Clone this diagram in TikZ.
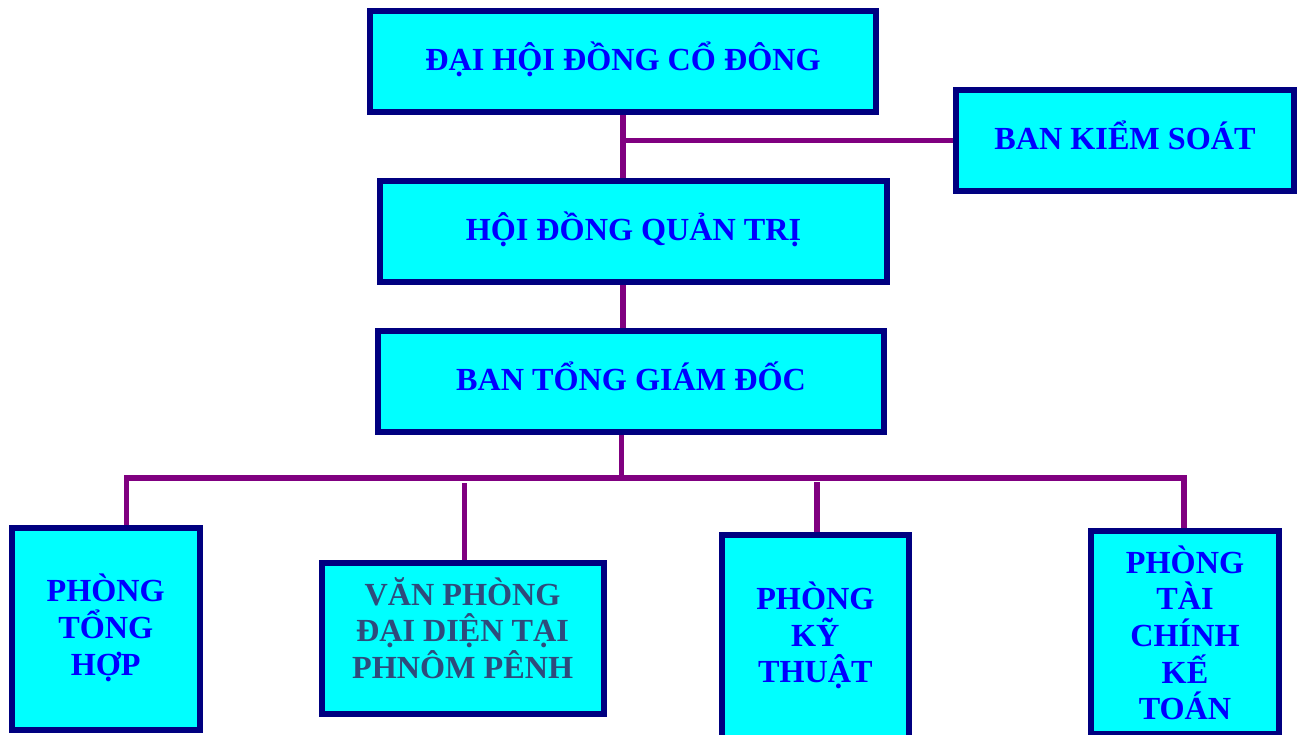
\documentclass[tikz,border=0pt]{standalone}
\usepackage{fontspec}
\setmainfont{Liberation Serif}
\usetikzlibrary{backgrounds}
\definecolor{boxfill}{HTML}{00FFFF}
\definecolor{boxline}{HTML}{000080}
\definecolor{connc}{HTML}{800080}
\definecolor{txtblue}{HTML}{0000FF}
\definecolor{txtslate}{HTML}{2F4B7C}
\newcommand\st[1]{\rule[\dimexpr#1pt-25pt\relax]{0pt}{50pt}}
\newcommand\bxfont{\fontsize{32.2}{36.7}\selectfont\bfseries\lineskiplimit=-\maxdimen\relax}
\begin{document}
\begin{tikzpicture}[x=1pt,y=-1pt,
  box/.style={draw=boxline, line width=6pt, fill=boxfill, inner sep=0pt,
    align=center, text=txtblue, font=\bxfont},
  conn/.style={draw=connc, line width=5.5pt}]
\useasboundingbox (0,0) rectangle (1299,734);
\node[box,minimum width=506,minimum height=101] (A) at (623,61.5) {\st{9.2}ĐẠI HỘI ĐỒNG CỔ ĐÔNG};
\node[box,minimum width=338,minimum height=101] (B) at (1125,140.5) {\st{8.8}BAN KIỂM SOÁT};
\node[box,minimum width=507,minimum height=101] (C) at (633.5,231.5) {\st{9.2}HỘI ĐỒNG QUẢN TRỊ};
\node[box,minimum width=506.5,minimum height=101] (D) at (631,381.5) {\st{8.5}BAN TỔNG GIÁM ĐỐC};
\node[box,minimum width=187.5,minimum height=202] (E) at (105.75,629) {\st{9.3}PHÒNG\\\st{9.3}TỔNG\\\st{9.3}HỢP};
\node[box,minimum width=282,minimum height=151,text=txtslate] (F) at (462.6,638.5) {\st{3.2}VĂN PHÒNG\\\st{3.2}ĐẠI DIỆN TẠI\\\st{3.2}PHNÔM PÊNH};
\node[box,minimum width=187.3,minimum height=210] (G) at (815.3,640) {\st{6}PHÒNG\\\st{6}KỸ\\\st{6}THUẬT};
\node[box,minimum width=188,minimum height=203] (H) at (1185,632.5) {\st{14}PHÒNG\\\st{14}TÀI\\\st{14}CHÍNH\\\st{14}KẾ\\\st{14}TOÁN};
\coordinate (bus) at (621.6,478);
\coordinate (ftop) at (464.7,483);
\coordinate (gtop) at (816.8,482);
\begin{scope}[on background layer]
  \fill[white] (0,0) rectangle (1299,734);
  \draw[conn] (A.south) -- (A.south |- C.north);
  \draw[conn] (A.south |- B.west) -- (B.west);
  \draw[conn] (A.south |- C.south) -- (A.south |- D.north);
  \draw[conn] (bus |- D.south) -- (bus);
  \draw[conn] ([xshift=20.75pt]E.north) |- ([xshift=-1pt]H.north |- bus) -- ([xshift=-1pt]H.north);
  \draw[conn] (ftop) -- (ftop |- F.north);
  \draw[conn] (gtop) -- (gtop |- G.north);
\end{scope}
\end{tikzpicture}
\end{document}
